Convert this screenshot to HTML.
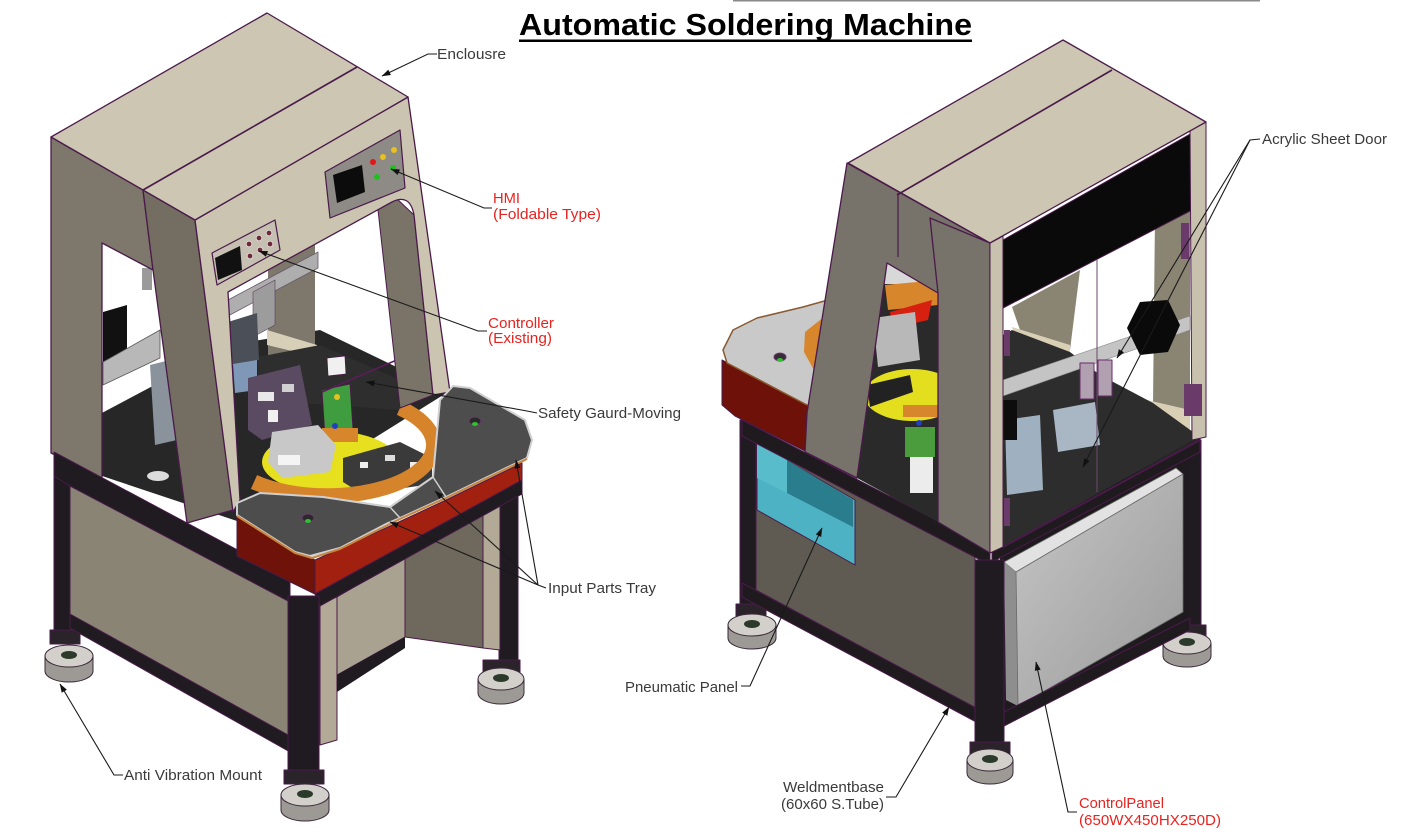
<!DOCTYPE html>
<html><head><meta charset="utf-8"><style>
html,body{margin:0;padding:0;background:#fff;}
svg{display:block;}
text{font-family:"Liberation Sans",Arial,sans-serif;}
</style></head><body>
<svg width="1402" height="838" viewBox="0 0 1402 838" xmlns="http://www.w3.org/2000/svg">
<defs>
<marker id="ar" markerWidth="9" markerHeight="7" refX="8.5" refY="3.5" orient="auto" markerUnits="userSpaceOnUse"><path d="M0,0.5 L9,3.5 L0,6.5 z" fill="#111"/></marker>
<linearGradient id="cp" x1="0" y1="0" x2="1" y2="1"><stop offset="0" stop-color="#c6c6c6"/><stop offset="1" stop-color="#9a9a9a"/></linearGradient>
<clipPath id="winR"><polygon points="887,263 938,293 938,522 857,478"/></clipPath>
</defs>

<!-- top gray line -->
<rect x="733" y="0" width="527" height="1.5" fill="#8a8a8a"/>

<!-- ================= LEFT MACHINE ================= -->
<g stroke-linejoin="round">
<!-- right leg + foot -->
<rect x="499" y="478" width="19" height="184" fill="#1f1b20" stroke="#4a1a4a"/>
<rect x="483" y="660" width="37" height="12" fill="#2a242a" stroke="#4a1a4a"/>
<g transform="translate(501,679)"><path d="M-23,0 v14 a23,11 0 0 0 46,0 v-14 z" fill="#9d9994" stroke="#3a2a3a"/><ellipse rx="23" ry="11" fill="#d3d0cb" stroke="#3a2a3a"/><ellipse cy="-1" rx="8" ry="4" fill="#2b3a2b"/></g>
<!-- left leg + foot -->
<rect x="54" y="445" width="17" height="188" fill="#1f1b20" stroke="#4a1a4a"/>
<rect x="50" y="630" width="30" height="14" fill="#2a242a" stroke="#4a1a4a"/>
<g transform="translate(69,656)"><path d="M-24,0 v15 a24,11 0 0 0 48,0 v-15 z" fill="#9d9994" stroke="#3a2a3a"/><ellipse rx="24" ry="11" fill="#d3d0cb" stroke="#3a2a3a"/><ellipse cy="-1" rx="8" ry="4" fill="#2b3a2b"/></g>

<!-- right side of base -->
<polygon points="320,603 337,597 337,740 320,745" fill="#b2aa96" stroke="#4a1a4a"/>
<polygon points="337,597 405,557 405,637 337,675" fill="#a9a290" stroke="#4a1a4a"/>
<polygon points="337,675 405,637 405,648 337,692" fill="#1f1b20"/>
<polygon points="405,557 483,513 483,648 405,637" fill="#6f695d" stroke="#4a1a4a"/>
<polygon points="483,513 500,505 500,650 483,648" fill="#b2aa96" stroke="#4a1a4a"/>

<!-- left base panel -->
<polygon points="70,478 290,594 290,744 70,622" fill="#8a8474" stroke="#4a1a4a"/>
<polygon points="70,614 290,736 290,752 70,628" fill="#1f1b20" stroke="#4a1a4a"/>

<!-- enclosure floor -->
<polygon points="60,450 100,414 230,345 320,330 448,392 240,522 60,462" fill="#272727"/>

<!-- interior seen through left window -->
<rect x="142" y="268" width="10" height="22" fill="#9a9a9a"/>
<polygon points="103,312 127,305 127,355 103,362" fill="#111"/>
<polygon points="103,362 160,330 160,358 103,385" fill="#b8b8b8" stroke="#555" stroke-width="0.8"/>
<polygon points="150,365 170,360 177,440 155,445" fill="#8a929c"/>
<ellipse cx="158" cy="476" rx="11" ry="5" fill="#dcdcdc"/>

<!-- interior seen through arch -->
<polygon points="268,255 315,240 315,357 268,360" fill="#7e786c"/>
<polygon points="267,330 317,345 317,357 267,345" fill="#d8cfb8"/>
<polygon points="228,300 318,252 318,268 228,316" fill="#aeaeae" stroke="#6a5a6a" stroke-width="0.8"/>
<polygon points="253,292 275,280 275,325 253,337" fill="#9c9c9c" stroke="#5a3a5a" stroke-width="0.6"/>
<polygon points="258,357 320,345 400,380 400,410 258,400" fill="#2e2e2e"/>
<polygon points="228,322 257,313 259,360 232,366" fill="#4a4f58"/>
<polygon points="233,364 257,360 257,390 235,393" fill="#7f98b8"/>
<polygon points="248,378 300,365 312,425 262,440 248,430" fill="#5a4a62"/>
<rect x="258" y="392" width="16" height="9" fill="#e8e8e8"/>
<rect x="282" y="384" width="12" height="8" fill="#d0d0d0"/>
<rect x="268" y="410" width="10" height="12" fill="#f0f0f0"/>
<ellipse cx="330" cy="462" rx="68" ry="31" fill="#e6e01e"/>
<polygon points="322,390 350,384 353,430 325,436" fill="#3f9c3f" stroke="#4a1a4a" stroke-width="0.8"/>
<polygon points="327,358 345,356 346,374 328,376" fill="#f0f0f0" stroke="#4a1a4a" stroke-width="0.8"/>
<circle cx="337" cy="397" r="3" fill="#e8c020"/>
<rect x="322" y="428" width="36" height="14" fill="#d8862c"/>
<circle cx="335" cy="426" r="3" fill="#2040c0"/>
<polygon points="272,432 318,425 336,445 330,472 282,478 268,462" fill="#c8c8c8"/>
<rect x="278" y="455" width="22" height="10" fill="#f4f4f4"/>
<polygon points="343,458 400,442 432,458 432,484 362,494 343,482" fill="#3a3a3a"/>
<rect x="360" y="462" width="8" height="6" fill="#eee"/><rect x="385" y="455" width="10" height="6" fill="#ddd"/><rect x="410" y="462" width="8" height="8" fill="#eee"/>
<polyline points="322,392 413,353 414,392" fill="none" stroke="#5a1d5a" stroke-width="1.6"/>
<!-- orange ring -->
<path d="M254,482 A105,50 0 1 0 400,408" fill="none" stroke="#d6842c" stroke-width="15"/>

<!-- enclosure: side panel -->
<polygon points="51,137 143,190 153,270 102,243 102,478 51,453" fill="#7d776c" stroke="#4a1a4a" stroke-width="1.3"/>
<!-- front pillar side strip -->
<polygon points="143,190 195,220 233,510 187,523 153,270" fill="#736d62" stroke="#4a1a4a" stroke-width="1.3"/>
<!-- arch inner side (right leg) -->
<polygon points="378,210 395,197 414,215 433,395 400,408" fill="#7a7468" stroke="#4a1a4a" stroke-width="1"/>
<!-- front face with arch -->
<path d="M195,220 L408,97 L450,392 L433,395 L414,215 Q410,193 392,202 L228,292 L240,500 L233,512 Z" fill="#cbc4b1" stroke="#4a1a4a" stroke-width="1.3"/>
<!-- top face -->
<polygon points="51,137 267,13 408,97 195,220" fill="#cdc6b3" stroke="#4a1a4a" stroke-width="1.3"/>
<line x1="357" y1="67" x2="143" y2="190" stroke="#4a1a4a" stroke-width="1.6"/>
<!-- controller plate -->
<polygon points="212,253 275,220 280,250 217,285" fill="#c6c0b2" stroke="#4a1a4a" stroke-width="1.2"/>
<polygon points="215,258 240,246 242,270 218,280" fill="#111"/>
<g fill="#6b2a3a" stroke="#e8dede" stroke-width="0.8"><circle cx="249" cy="244" r="2.8"/><circle cx="259" cy="238" r="2.8"/><circle cx="269" cy="233" r="2.8"/><circle cx="250" cy="256" r="2.8"/><circle cx="260" cy="250" r="2.8"/><circle cx="270" cy="244" r="2.8"/></g>
<!-- HMI plate -->
<polygon points="325,172 400,130 405,188 330,218" fill="#8e8a85" stroke="#4a1a4a" stroke-width="1.2"/>
<polygon points="333,175 362,165 365,192 337,203" fill="#0c0c0c"/>
<circle cx="373" cy="162" r="3" fill="#e01818"/><circle cx="383" cy="157" r="3" fill="#e8c020"/><circle cx="394" cy="150" r="3" fill="#e8c020"/><circle cx="377" cy="177" r="3" fill="#20c020"/><circle cx="393" cy="168" r="3" fill="#20c020"/>

<!-- left base top rail -->
<polygon points="54,452 290,578 290,602 70,486 54,476" fill="#1f1b20" stroke="#4a1a4a"/>

<!-- red skirt -->
<polygon points="237,513 315,560 315,594 237,556" fill="#6e120a" stroke="#4a1a4a"/>
<polygon points="315,560 388,527 446,500 522,463 522,480 315,594" fill="#a1200f" stroke="#4a1a4a"/>
<polygon points="315,594 522,480 522,494 320,606" fill="#1f1b20" stroke="#4a1a4a"/>
<!-- tray top -->
<polygon points="237,503 260,493 323,497 390,507 433,477 440,400 453,386 470,388 525,420 532,440 527,458 446,497 400,518 388,523 340,548 310,556 295,552 237,515" fill="#4d4d4d" stroke="#d0d0d0" stroke-width="2"/>
<path d="M237,516 L295,553 L312,558 L340,549 L400,519 L446,498 L527,459" fill="none" stroke="#c8843c" stroke-width="2"/>
<line x1="390" y1="507" x2="400" y2="518" stroke="#cfcfcf" stroke-width="1.5"/>
<line x1="433" y1="477" x2="446" y2="497" stroke="#cfcfcf" stroke-width="1.5"/>
<g><ellipse cx="308" cy="518" rx="6" ry="4" fill="#2a2a2a" stroke="#6a3a6a"/><ellipse cx="308" cy="521" rx="3" ry="2" fill="#30c030"/></g>
<g><ellipse cx="475" cy="421" rx="6" ry="4" fill="#2a2a2a" stroke="#6a3a6a"/><ellipse cx="475" cy="424" rx="3" ry="2" fill="#30c030"/></g>

<!-- front leg + foot -->
<rect x="288" y="596" width="31" height="176" fill="#1f1b20" stroke="#4a1a4a"/>
<rect x="284" y="770" width="40" height="14" fill="#2a242a" stroke="#4a1a4a"/>
<g transform="translate(305,795)"><path d="M-24,0 v15 a24,11 0 0 0 48,0 v-15 z" fill="#9d9994" stroke="#3a2a3a"/><ellipse rx="24" ry="11" fill="#d3d0cb" stroke="#3a2a3a"/><ellipse cy="-1" rx="8" ry="4" fill="#2b3a2b"/></g>
</g>

<!-- ================= RIGHT MACHINE ================= -->
<g stroke-linejoin="round">
<!-- back legs + feet -->
<rect x="740" y="420" width="16" height="188" fill="#1f1b20" stroke="#4a1a4a"/>
<rect x="736" y="604" width="30" height="12" fill="#2a242a" stroke="#4a1a4a"/>
<g transform="translate(752,625)"><path d="M-24,0 v13 a24,11 0 0 0 48,0 v-13 z" fill="#9d9994" stroke="#3a2a3a"/><ellipse rx="24" ry="11" fill="#d3d0cb" stroke="#3a2a3a"/><ellipse cy="-1" rx="8" ry="4" fill="#2b3a2b"/></g>
<rect x="1185" y="440" width="16" height="190" fill="#1f1b20" stroke="#4a1a4a"/>
<rect x="1176" y="625" width="30" height="12" fill="#2a242a" stroke="#4a1a4a"/>
<g transform="translate(1187,643)"><path d="M-24,0 v13 a24,11 0 0 0 48,0 v-13 z" fill="#9d9994" stroke="#3a2a3a"/><ellipse rx="24" ry="11" fill="#d3d0cb" stroke="#3a2a3a"/><ellipse cy="-1" rx="8" ry="4" fill="#2b3a2b"/></g>

<!-- right base -->
<polygon points="1000,558 1190,450 1190,625 1000,722" fill="#1e1a1e"/>
<polygon points="1004,562 1176,468 1183,474 1016,572" fill="#e2e2e2" stroke="#6a6a6a" stroke-width="0.8"/>
<polygon points="1004,562 1016,572 1018,706 1006,700" fill="#8e8e8e"/>
<polygon points="1016,572 1183,474 1183,612 1018,706" fill="url(#cp)" stroke="#6a6a6a" stroke-width="0.8"/>
<polygon points="992,548 1200,438 1200,452 992,562" fill="#1e1a1e" stroke="#4a1a4a"/>
<polygon points="1004,712 1190,618 1190,630 1004,726" fill="#1e1a1e" stroke="#4a1a4a"/>

<!-- left base -->
<polygon points="756,440 975,556 975,708 756,590" fill="#5f5b52" stroke="#4a1a4a"/>
<polygon points="757,443 855,500 855,565 757,510" fill="#4db3c4" stroke="#4a1a4a"/>
<polygon points="787,460 853,500 853,527 787,493" fill="#2a7d8c"/>
<polygon points="757,443 787,460 787,493 757,478" fill="#58bccb"/>
<polygon points="742,583 980,710 980,724 742,597" fill="#1e1a1e" stroke="#4a1a4a"/>

<!-- tabletop floor -->
<polygon points="740,415 990,548 1200,440 1200,300 1000,250 845,300" fill="#262626"/>
<polygon points="742,420 990,548 990,565 742,436" fill="#1e1a1e" stroke="#4a1a4a"/>

<!-- front leg + foot -->
<rect x="975" y="560" width="29" height="190" fill="#1f1b20" stroke="#4a1a4a"/>
<rect x="970" y="742" width="40" height="12" fill="#2a242a" stroke="#4a1a4a"/>
<g transform="translate(990,760)"><path d="M-23,0 v13 a23,11 0 0 0 46,0 v-13 z" fill="#9d9994" stroke="#3a2a3a"/><ellipse rx="23" ry="11" fill="#d3d0cb" stroke="#3a2a3a"/><ellipse cy="-1" rx="8" ry="4" fill="#2b3a2b"/></g>

<!-- round tray -->
<polygon points="722,360 807,405 835,412 835,455 807,452 735,416 722,405" fill="#6e1209" stroke="#4a1a4a"/>
<polygon points="723,350 733,330 757,318 803,307 835,298 835,408 807,405 727,363" fill="#c9c9c9" stroke="#8a5a30" stroke-width="1.5"/>
<polygon points="805,332 830,312 838,318 838,372 815,372 804,352" fill="#d8862c"/>
<g><ellipse cx="780" cy="357" rx="6" ry="4" fill="#3a2a3a" stroke="#6a3a6a"/><ellipse cx="780" cy="360" rx="3" ry="2" fill="#30c030"/></g>

<!-- window contents -->
<g clip-path="url(#winR)">
<rect x="850" y="260" width="95" height="270" fill="#2a2a2a"/>
<rect x="850" y="260" width="95" height="24" fill="#d8d8d8"/>
<polygon points="885,285 938,280 938,305 888,310" fill="#d8862c"/>
<polygon points="890,312 932,300 928,320 893,328" fill="#d82010"/>
<polygon points="873,318 915,312 920,360 878,367" fill="#b8b8b8"/>
<ellipse cx="912" cy="395" rx="48" ry="26" fill="#e3df1e"/>
<polygon points="867,385 910,375 913,392 870,407" fill="#222"/>
<rect x="903" y="405" width="36" height="12" fill="#d8862c"/>
<rect x="905" y="427" width="30" height="30" fill="#4a9c3c"/>
<circle cx="919" cy="423" r="3" fill="#2040c0"/>
<rect x="910" y="457" width="23" height="36" fill="#ececec"/>
</g>

<!-- enclosure side: leg -->
<polygon points="847,163 990,243 938,293 887,263 857,478 805,452 807,413" fill="#77726a" stroke="#4a1a4a" stroke-width="1.3"/>
<!-- column -->
<polygon points="930,218 990,243 990,553 938,522 938,293" fill="#77726a" stroke="#4a1a4a" stroke-width="1.3"/>
<line x1="898" y1="193" x2="898" y2="257" stroke="#4a1a4a" stroke-width="1.2"/>

<!-- front interior -->
<polygon points="1003,307 1192,210 1192,437 1003,547" fill="#fff"/>
<polygon points="1012,307 1080,270 1070,350 1020,330" fill="#8a8473"/>
<polygon points="1012,327 1070,345 1070,352 1015,336" fill="#d8cfb5"/>
<polygon points="1155,215 1190,197 1190,420 1153,405" fill="#8a8473"/>
<polygon points="1147,400 1190,410 1190,432 1150,418" fill="#d8cfb5"/>
<polygon points="1003,335 1012,330 1070,352 1100,375 1153,403 1193,432 1193,440 1003,547" fill="#2d2d2d"/>
<polygon points="1003,380 1190,316 1190,330 1003,396" fill="#c4c4c4" stroke="#888" stroke-width="0.6"/>
<polygon points="1140,302 1168,300 1180,325 1168,352 1140,355 1127,328" fill="#0a0a0a"/>
<rect x="1080" y="363" width="14" height="36" fill="#b0a0b0" stroke="#6a2a6a"/>
<rect x="1098" y="360" width="14" height="36" fill="#b0a0b0" stroke="#6a2a6a"/>
<polygon points="1053,410 1095,402 1100,445 1058,452" fill="#a9b7c4"/>
<polygon points="1005,420 1040,415 1043,490 1007,495" fill="#9fb0c0"/>
<rect x="1003" y="400" width="14" height="40" fill="#0d0d0d"/>
<line x1="1097" y1="260" x2="1097" y2="492" stroke="#6a4a6a" stroke-width="1"/>

<!-- black acrylic band -->
<polygon points="1003,240 1192,133 1192,210 1003,308" fill="#0a0a0a" stroke="#4a1a4a"/>
<!-- strips -->
<polygon points="990,243 1003,236 1003,547 990,553" fill="#c8c1ae" stroke="#4a1a4a"/>
<polygon points="1190,130 1206,122 1206,437 1192,440" fill="#c8c1ae" stroke="#4a1a4a"/>
<g fill="#6a3a6a"><rect x="1181" y="223" width="8" height="36"/><rect x="1184" y="384" width="18" height="32"/><rect x="1004" y="330" width="6" height="26"/><rect x="1004" y="498" width="6" height="28"/></g>
<line x1="1003" y1="547" x2="1200" y2="440" stroke="#4a1a4a" stroke-width="2"/>
<!-- top face -->
<polygon points="848,163 1063,40 1206,122 990,243" fill="#cdc6b3" stroke="#4a1a4a" stroke-width="1.3"/>
<line x1="1112" y1="70" x2="897" y2="195" stroke="#4a1a4a" stroke-width="1.6"/>
</g>

<!-- ================= TITLE ================= -->
<text x="519" y="35" font-size="31" font-weight="bold" fill="#000" textLength="453" lengthAdjust="spacingAndGlyphs">Automatic Soldering Machine</text>
<rect x="519" y="39.5" width="453" height="2.5" fill="#000"/>

<!-- ================= LEADERS ================= -->
<g fill="none" stroke="#1a1a1a" stroke-width="1.1">
<polyline points="437,54 428,54 382,76" marker-end="url(#ar)"/>
<polyline points="492,208 484,208 391,169" marker-end="url(#ar)"/>
<polyline points="487,331 478,331 259,251" marker-end="url(#ar)"/>
<polyline points="537,413 527,411 366,382" marker-end="url(#ar)"/>
<polyline points="546,588 538,585 390,522" marker-end="url(#ar)"/>
<polyline points="538,585 435,491" marker-end="url(#ar)"/>
<polyline points="538,585 516,460" marker-end="url(#ar)"/>
<polyline points="123,775 114,775 60,684" marker-end="url(#ar)"/>
<polyline points="741,686 750,686 822,528" marker-end="url(#ar)"/>
<polyline points="1260,139 1250,140 1117,358" marker-end="url(#ar)"/>
<polyline points="1250,140 1083,467" marker-end="url(#ar)"/>
<polyline points="886,797 896,797 949,707" marker-end="url(#ar)"/>
<polyline points="1077,812 1068,812 1036,662" marker-end="url(#ar)"/>
</g>

<!-- ================= LABELS ================= -->
<g font-size="15" fill="#3a3a3a">
<text x="437" y="59" textLength="69" lengthAdjust="spacingAndGlyphs">Enclousre</text>
<text x="538" y="418" textLength="143" lengthAdjust="spacingAndGlyphs">Safety Gaurd-Moving</text>
<text x="548" y="593" textLength="108" lengthAdjust="spacingAndGlyphs">Input Parts Tray</text>
<text x="124" y="780" textLength="138" lengthAdjust="spacingAndGlyphs">Anti Vibration Mount</text>
<text x="625" y="692" textLength="113" lengthAdjust="spacingAndGlyphs">Pneumatic Panel</text>
<text x="1262" y="144" textLength="125" lengthAdjust="spacingAndGlyphs">Acrylic Sheet Door</text>
<text x="783" y="792" textLength="101" lengthAdjust="spacingAndGlyphs">Weldmentbase</text>
<text x="781" y="809" textLength="103" lengthAdjust="spacingAndGlyphs">(60x60 S.Tube)</text>
</g>
<g font-size="15" fill="#e8231f">
<text x="493" y="203" textLength="27" lengthAdjust="spacingAndGlyphs">HMI</text>
<text x="493" y="219" textLength="108" lengthAdjust="spacingAndGlyphs">(Foldable Type)</text>
<text x="488" y="328" textLength="66" lengthAdjust="spacingAndGlyphs">Controller</text>
<text x="488" y="343" textLength="64" lengthAdjust="spacingAndGlyphs">(Existing)</text>
<text x="1079" y="808" textLength="85" lengthAdjust="spacingAndGlyphs">ControlPanel</text>
<text x="1079" y="825" textLength="142" lengthAdjust="spacingAndGlyphs">(650WX450HX250D)</text>
</g>
</svg>
</body></html>
